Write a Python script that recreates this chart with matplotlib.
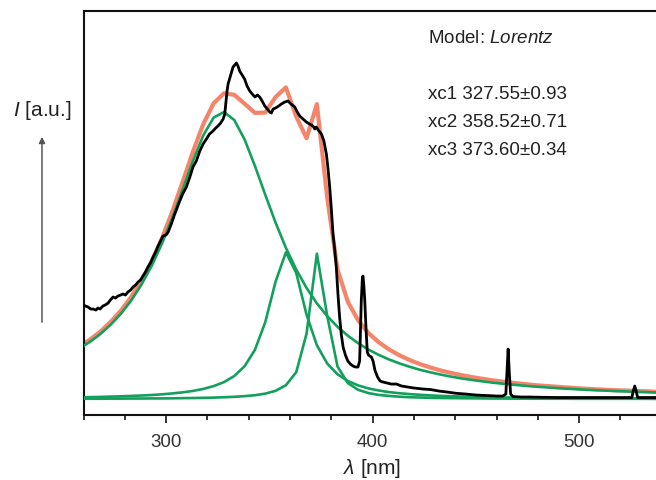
import matplotlib
matplotlib.use('Agg')
import matplotlib.pyplot as plt
from matplotlib.ticker import MultipleLocator

plt.rcParams['font.family'] = ['Liberation Sans', 'DejaVu Sans']
plt.rcParams['mathtext.fontset'] = 'custom'
plt.rcParams['mathtext.rm'] = 'Liberation Sans'
plt.rcParams['mathtext.it'] = 'Liberation Sans:italic'

# fitted Lorentz components, wavelength in nm, intensity in a.u.
wl_fit = [258, 263, 268, 273, 278, 283, 288, 293, 298, 303, 308, 313, 318, 323, 328,
          333, 338, 343, 348, 353, 358, 363, 368, 373, 378, 383, 388, 393, 398, 403,
          408, 413, 418, 423, 428, 433, 438, 443, 448, 453, 458, 463, 468, 473, 478,
          483, 488, 493, 498, 503, 508, 513, 518, 523, 528, 533, 538, 543]
lor1 = [50.5, 57.0, 64.7, 74.0, 85.0, 98.2, 114.2, 133.1, 155.5, 181.2, 209.5, 238.2,
        263.7, 281.4, 287.0, 279.0, 259.6, 233.1, 204.3, 176.4, 151.2, 129.5, 111.1,
        95.7, 82.9, 72.2, 63.3, 55.8, 49.4, 44.1, 39.5, 35.6, 32.2, 29.2, 26.7, 24.4,
        22.4, 20.6, 19.1, 17.7, 16.4, 15.3, 14.3, 13.4, 12.5, 11.8, 11.1, 10.4, 9.9,
        9.3, 8.8, 8.4, 7.9, 7.6, 7.2, 6.9, 6.5, 6.3]
lor2 = [1.7, 1.9, 2.1, 2.4, 2.7, 3.1, 3.5, 4.0, 4.7, 5.6, 6.7, 8.1, 10.1, 12.9, 16.9,
        23.0, 32.8, 49.2, 76.8, 117.4, 146.7, 126.1, 84.3, 53.8, 35.5, 24.7, 18.0, 13.6,
        10.6, 8.5, 6.9, 5.8, 4.9, 4.2, 3.6, 3.1, 2.8, 2.5, 2.2, 2.0, 1.8, 1.6, 1.5, 1.3,
        1.2, 1.1, 1.1, 1.0, 0.9, 0.8, 0.8, 0.7, 0.7, 0.7, 0.6, 0.6, 0.5, 0.5]
lor3 = [0.3, 0.3, 0.3, 0.4, 0.4, 0.5, 0.5, 0.6, 0.6, 0.7, 0.9, 1.0, 1.2, 1.4, 1.8,
        2.2, 2.9, 3.8, 5.4, 8.2, 13.8, 26.8, 65.4, 145.4, 83.1, 32.5, 15.9, 9.2, 5.9,
        4.1, 3.1, 2.3, 1.8, 1.5, 1.2, 1.0, 0.9, 0.8, 0.7, 0.6, 0.5, 0.5, 0.4, 0.4, 0.3,
        0.3, 0.3, 0.3, 0.2, 0.2, 0.2, 0.2, 0.2, 0.2, 0.2, 0.2, 0.1, 0.1]
fit_sum = [52.5, 59.2, 67.1, 76.8, 88.1, 101.8, 118.2, 137.7, 160.8, 187.5, 217.1,
           247.3, 275.0, 295.7, 305.7, 304.2, 295.3, 286.1, 286.5, 302.0, 311.7, 282.4,
           260.8, 294.9, 201.5, 129.4, 97.2, 78.6, 65.9, 56.7, 49.5, 43.7, 38.9, 34.9,
           31.5, 28.5, 26.1, 23.9, 22.0, 20.3, 18.7, 17.4, 16.2, 15.1, 14.0, 13.2, 12.5,
           11.7, 11.0, 10.3, 9.8, 9.3, 8.8, 8.5, 8.0, 7.7, 7.1, 6.9]

# measured spectrum
wl_exp = [260, 261, 262.2, 263.5, 264.6, 266, 267, 268, 269.4, 270.5, 271.9, 273, 274.3,
          275.5, 276.7, 278, 279.1, 280.3, 281.5, 282.8, 284, 285.2, 286.4, 287.6, 288.8,
          290, 291.2, 292.4, 293.7, 294.9, 296.1, 297.3, 298.5, 300, 301, 302.5, 304,
          305.5, 306.6, 308, 309.8, 311.5, 313, 314.6, 316.3, 317.9, 319.5, 321, 322.7,
          324, 325.1, 326.4, 327.6, 328.4, 328.9, 329.5, 330, 331, 332.4, 333.2, 334,
          334.8, 335.6, 336.8, 338, 339.2, 340.5, 341.7, 343, 344.2, 345.3, 346.5, 347.8,
          349, 350.2, 351, 351.8, 353, 354.5, 355.8, 357.4, 359, 360.5, 362.3, 363.5,
          364.7, 366.3, 367.9, 369.5, 371.1, 372, 372.7, 374, 375.2, 376.4, 377.6, 378.4,
          379.2, 380, 380.8, 381.6, 382.4, 383.2, 384, 384.8, 385.7, 386.8, 388, 389.2,
          390.5, 391.7, 392.9, 393.7, 394.1, 394.5, 395, 395.3, 395.7, 396.2, 396.8,
          397.4, 398, 398.6, 399.4, 400.2, 401.2, 402.4, 403.6, 405, 407, 409, 411.5,
          414, 417, 420, 424.4, 428, 432, 436, 440.5, 445, 450, 455, 460, 463, 464.5,
          465, 465.6, 466.2, 466.8, 468, 472, 476, 480, 490, 500, 510, 520, 525.5,
          526.2, 526.9, 527.6, 528.3, 532, 538]
int_exp = [94, 93, 92, 90, 90, 89, 91, 90, 93, 94, 96, 99, 102, 101, 103, 104, 105, 104,
           107, 109, 112, 114, 117, 119, 123, 127, 132, 136, 142, 147, 153, 158, 163,
           164, 167, 175, 184, 192, 198, 205, 212, 222, 232, 238, 248, 255, 260, 265,
           268, 271, 273, 276, 280, 285, 295, 308, 315, 322, 332, 334, 336, 333, 328,
           324, 320, 313, 308, 305, 302, 304, 302, 298, 293, 290, 287, 286, 290, 291,
           293, 295, 297, 298, 295, 292, 287, 283, 280, 277, 275, 273, 270, 272, 268,
           265, 258, 245, 230, 212, 190, 165, 150, 132, 105, 82, 65, 52, 44, 38, 35, 33,
           32, 32, 38, 70, 98, 120, 123, 115, 98, 70, 47, 44, 43, 42, 38, 28, 22, 18, 17,
           16, 15, 15, 13, 12, 11, 10, 9.5, 8, 7, 5.7, 5, 4, 3.5, 3, 3, 5, 25, 50, 25, 5,
           2.5, 2, 2, 1.8, 1.5, 1.5, 1.5, 1.5, 1.5, 8, 13, 8, 1.5, 1.5, 1.5]

major_ticks = [300, 400, 500]

fig = plt.figure(figsize=(6.56, 4.81), dpi=100)
ax = fig.add_axes([0.1273, 0.1357, 0.8727, 0.8393])

ax.plot(wl_fit, fit_sum, color='#f4785a', lw=3.0, alpha=0.9, zorder=2)
for comp in (lor1, lor2, lor3):
    ax.plot(wl_fit, comp, color='#13a05c', lw=1.9, zorder=3)
ax.plot(wl_exp, int_exp, color='black', lw=2.0, zorder=4)

ax.set_xlim(260, 537.2)
ax.set_ylim(-15.7, 388)
ax.set_xticks(major_ticks)
ax.xaxis.set_minor_locator(MultipleLocator(20))
ax.set_yticks([])
ax.tick_params(axis='x', which='major', direction='out', length=6, width=1.1,
               pad=7, labelsize=13.5, labelcolor='#333333')
ax.tick_params(axis='x', which='minor', direction='out', length=3.6, width=1.1)
ax.spines['right'].set_visible(False)
for s in ('left', 'top', 'bottom'):
    ax.spines[s].set_linewidth(1.5)
    ax.spines[s].set_color('#111111')

# labels
fig.text(0.567, 0.027, r'$\lambda$ [nm]', fontsize=15, ha='center', va='center',
         color='#222222')
fig.text(0.064, 0.771, r'$I$ [a.u.]', fontsize=15, ha='center', va='center',
         color='#222222')
ax.annotate('', xy=(0.064, 1 - 135 / 481), xytext=(0.064, 1 - 326 / 481),
            xycoords='figure fraction', textcoords='figure fraction',
            arrowprops=dict(arrowstyle='-|>', color='#555555', lw=1.1,
                            mutation_scale=9))

# fit results
fig.text(0.653, 0.919, r'Model: $\mathit{Lorentz}$', fontsize=13.5, va='center',
         color='#222222')
fit_lines = ['xc1 327.55\u00b10.93', 'xc2 358.52\u00b10.71', 'xc3 373.60\u00b10.34']
for i, t in enumerate(fit_lines):
    fig.text(0.653, 0.8025 - i * 0.0575, t, fontsize=13.5, va='center', color='#222222')

fig.savefig('out.png', dpi=100)
